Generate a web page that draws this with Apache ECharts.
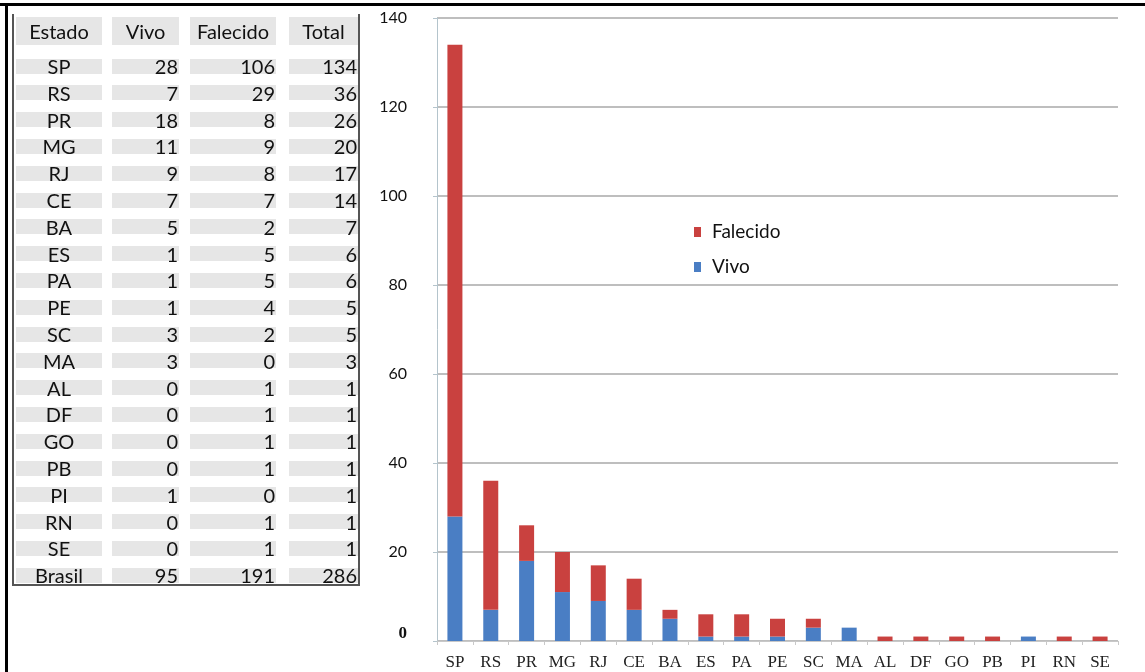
<!DOCTYPE html>
<html>
<head>
<meta charset="utf-8">
<script src="https://cdn.jsdelivr.net/npm/echarts@6/dist/echarts.min.js"></script>
<style>
  html, body { margin: 0; padding: 0; background: #fff; }
  #wrap { position: relative; width: 1145px; height: 672px; overflow: hidden; background: #fff; }
  #chart { position: absolute; left: 0; top: 0; width: 1145px; height: 672px; }
  #topline { position: absolute; left: 0; top: 3px; width: 1145px; height: 3px; background: #000; }
  #leftline { position: absolute; left: 5px; top: 3px; width: 3px; height: 669px; background: #000; }
  #table { position: absolute; left: 12px; top: 14px; width: 344px; height: 570px;
           border-left: 2px solid #555; border-right: 2px solid #555; border-bottom: 2px solid #555; }
  .band { position: absolute; background: #e6e6e6; }
  .txt { position: absolute; font-family: Lato, "Noto Sans", sans-serif; font-size: 20px; color: #111; line-height: 20px; white-space: nowrap; }
</style>
</head>
<body>
<div id="wrap">
  <div id="chart"></div>
  <div id="topline"></div>
  <div id="leftline"></div>
  <div id="table"></div>
</div>
<script>
// ---- Data ----
var headers = ['Estado', 'Vivo', 'Falecido', 'Total'];
var states = ['SP','RS','PR','MG','RJ','CE','BA','ES','PA','PE','SC','MA','AL','DF','GO','PB','PI','RN','SE'];
var vivo =     [28, 7, 18, 11, 9, 7, 5, 1, 1, 1, 3, 3, 0, 0, 0, 0, 1, 0, 0];
var falecido = [106, 29, 8, 9, 8, 7, 2, 5, 5, 4, 2, 0, 1, 1, 1, 1, 0, 1, 1];
var total =    [134, 36, 26, 20, 17, 14, 7, 6, 6, 5, 5, 3, 1, 1, 1, 1, 1, 1, 1];
var brasilLabel = 'Brasil';
var brasilRow = [95, 191, 286];
var yTicks = [0, 20, 40, 60, 80, 100, 120, 140];

// ---- Table (HTML) ----
var tbl = document.getElementById('table');
var cols = [ {x0: 2, x1: 88}, {x0: 98, x1: 165}, {x0: 176, x1: 262}, {x0: 275, x1: 344} ];
function addBand(c, cy, h) {
  var d = document.createElement('div');
  d.className = 'band';
  d.style.left = cols[c].x0 + 'px';
  d.style.width = (cols[c].x1 - cols[c].x0) + 'px';
  d.style.top = (cy - h / 2) + 'px';
  d.style.height = h + 'px';
  tbl.appendChild(d);
}
function addText(c, cy, text, align) {
  var d = document.createElement('div');
  d.className = 'txt';
  d.textContent = text;
  d.style.top = (cy - 10) + 'px';
  if (align === 'center') {
    d.style.left = cols[c].x0 + 'px';
    d.style.width = (cols[c].x1 - cols[c].x0) + 'px';
    d.style.textAlign = 'center';
  } else {
    d.style.left = (cols[c].x0) + 'px';
    d.style.width = (cols[c].x1 - cols[c].x0 - 1) + 'px';
    d.style.textAlign = 'right';
  }
  tbl.appendChild(d);
}
// header
var hy = 17;
for (var c = 0; c < 4; c++) { addBand(c, hy, 28); addText(c, hy, headers[c], 'center'); }
var rows = states.map(function (s, i) { return [s, vivo[i], falecido[i], total[i]]; });
rows.push([brasilLabel].concat(brasilRow));
rows.forEach(function (r, i) {
  var cy = 52 + i * 26.8;
  for (var c = 0; c < 4; c++) {
    addBand(c, cy, 15);
    addText(c, cy, String(r[c]), c === 0 ? 'center' : 'right');
  }
});

// ---- Chart ----
var chart = echarts.init(document.getElementById('chart'), null, { renderer: 'canvas' });
var option = {
  animation: false,
  backgroundColor: 'transparent',
  grid: { left: 437, right: 27, top: 18, bottom: 31, containLabel: false },
  legend: {
    orient: 'vertical',
    left: 689,
    top: 217,
    itemWidth: 7,
    itemHeight: 10,
    itemGap: 15,
    icon: 'rect',
    data: ['Falecido', 'Vivo'],
    textStyle: { fontFamily: 'Lato, "Noto Sans", sans-serif', fontSize: 19, color: '#111', lineHeight: 20, padding: [0, 0, 0, 6] }
  },
  xAxis: {
    type: 'category',
    data: states,
    axisLine: { show: true, lineStyle: { color: '#c8c8c8', width: 1 } },
    axisTick: { show: true, length: 4, lineStyle: { color: '#c8c8c8' } },
    axisLabel: { fontFamily: '"Liberation Serif", "DejaVu Serif", serif', fontSize: 17, color: '#222', margin: 13 }
  },
  yAxis: {
    type: 'value',
    min: 0,
    max: 140,
    interval: 20,
    axisLine: { show: true, lineStyle: { color: '#b4c4cc', width: 1 } },
    axisTick: { show: true, length: 4, inside: false, lineStyle: { color: '#b4c4cc' } },
    splitLine: { show: true, lineStyle: { color: '#a8a8a8', width: 1.5 } },
    axisLabel: {
      margin: 30,
      fontFamily: 'Lato, "Noto Sans", sans-serif', fontSize: 16, color: '#111',
      formatter: function (v) { return yTicks.indexOf(v) === 0 ? '{z|' + v + '}' : String(v); },
      rich: { z: { fontFamily: '"Liberation Serif", serif', fontWeight: 'bold', fontSize: 17, color: '#111', padding: [0, 0, 14, 0] } }
    }
  },
  series: [
    {
      name: 'Vivo', type: 'bar', stack: 'total', data: vivo, barWidth: 15,
      itemStyle: { color: '#4a7ec4' }
    },
    {
      name: 'Falecido', type: 'bar', stack: 'total', data: falecido, barWidth: 15,
      itemStyle: { color: '#c9413f' }
    }
  ]
};
chart.setOption(option);
</script>
</body>
</html>
